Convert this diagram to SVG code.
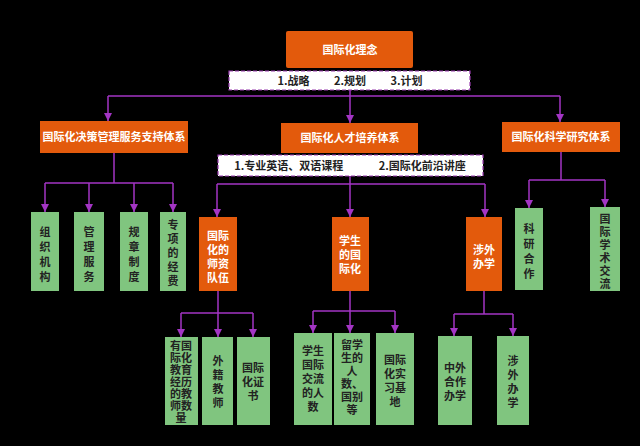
<svg xmlns="http://www.w3.org/2000/svg" width="640" height="446" viewBox="0 0 640 446">
<defs>
<marker id="a" viewBox="0 0 10 10" refX="10" refY="5" markerWidth="8" markerHeight="8" orient="auto" markerUnits="userSpaceOnUse">
<path d="M0,0 L10,5 L0,10 Z" fill="#a335c4"/>
</marker>
<style>
.o{fill:#e35a0c}
.g{fill:#80c57f}
.d{fill:#fff;stroke:#9a3cb0;stroke-width:1.2;stroke-dasharray:4 2}
.c{fill:none;stroke:#a335c4;stroke-width:1.5}
.t{font-family:"Noto Sans CJK SC","Liberation Sans",sans-serif;font-weight:bold;font-size:11px;text-anchor:middle}
.w{fill:#fff}
.k{fill:#222}
</style>
</defs>
<rect width="640" height="446" fill="#000"/>
<g id="connectors">
<path class="c" d="M350,90 V96 M108,96 H560"/>
<path class="c" marker-end="url(#a)" d="M108,96 V121"/>
<path class="c" marker-end="url(#a)" d="M350,96 V123"/>
<path class="c" marker-end="url(#a)" d="M560,96 V122"/>
<path class="c" d="M114,153 V183 M45,183 H173"/>
<path class="c" marker-end="url(#a)" d="M45,183 V212"/>
<path class="c" marker-end="url(#a)" d="M89,183 V212"/>
<path class="c" marker-end="url(#a)" d="M134,183 V212"/>
<path class="c" marker-end="url(#a)" d="M173,183 V212"/>
<path class="c" d="M350,176 V184 M217,184 H485"/>
<path class="c" marker-end="url(#a)" d="M217,184 V217"/>
<path class="c" marker-end="url(#a)" d="M350,184 V217"/>
<path class="c" marker-end="url(#a)" d="M485,184 V217"/>
<path class="c" d="M561,152 V180 M529,180 H605"/>
<path class="c" marker-end="url(#a)" d="M529,180 V208"/>
<path class="c" marker-end="url(#a)" d="M605,180 V207"/>
<path class="c" d="M218,291 V313 M181,313 H253"/>
<path class="c" marker-end="url(#a)" d="M181,313 V337"/>
<path class="c" marker-end="url(#a)" d="M218,313 V337"/>
<path class="c" marker-end="url(#a)" d="M253,313 V337"/>
<path class="c" d="M350,291 V311 M313,311 H395"/>
<path class="c" marker-end="url(#a)" d="M313,311 V333"/>
<path class="c" marker-end="url(#a)" d="M350,311 V333"/>
<path class="c" marker-end="url(#a)" d="M395,311 V333"/>
<path class="c" d="M484,291 V314 M454,314 H513"/>
<path class="c" marker-end="url(#a)" d="M454,314 V336"/>
<path class="c" marker-end="url(#a)" d="M513,314 V336"/>
</g>
<g id="top"><rect class="o" x="286" y="31" width="127" height="37" rx="2"/><text class="t w" x="350" y="54" font-size="12">国际化理念</text></g>
<g id="note1"><rect class="d" x="229" y="71" width="241" height="19"/><text class="t k" x="350" y="85">1.战略　　 2.规划　　 3.计划</text></g>
<g id="n-left"><rect class="o" x="40" y="121" width="148" height="32"/><text class="t w" x="114" y="141" font-size="10">国际化决策管理服务支持体系</text></g>
<g id="n-mid"><rect class="o" x="281" y="123" width="137" height="30"/><text class="t w" x="350" y="142" font-size="10.5">国际化人才培养体系</text></g>
<g id="n-right"><rect class="o" x="502" y="122" width="118" height="30"/><text class="t w" x="561" y="141" font-size="10.5">国际化科学研究体系</text></g>
<g id="note2"><rect class="d" x="218" y="155" width="265" height="21"/><text class="t k" x="350" y="170" font-size="10.5">1.专业英语、双语课程　　　 2.国际化前沿讲座</text></g>
<g id="g1"><rect class="g" x="31" y="212" width="28" height="79"/><text class="t k"><tspan x="45" y="236">组</tspan><tspan x="45" y="251">织</tspan><tspan x="45" y="266">机</tspan><tspan x="45" y="281">构</tspan></text></g>
<g id="g2"><rect class="g" x="74" y="212" width="30" height="79"/><text class="t k"><tspan x="89" y="236">管</tspan><tspan x="89" y="251">理</tspan><tspan x="89" y="266">服</tspan><tspan x="89" y="281">务</tspan></text></g>
<g id="g3"><rect class="g" x="120" y="212" width="28" height="79"/><text class="t k"><tspan x="134" y="236">规</tspan><tspan x="134" y="251">章</tspan><tspan x="134" y="266">制</tspan><tspan x="134" y="281">度</tspan></text></g>
<g id="g4"><rect class="g" x="160" y="212" width="26" height="79"/><text class="t k"><tspan x="173" y="229">专</tspan><tspan x="173" y="243">项</tspan><tspan x="173" y="257">的</tspan><tspan x="173" y="271">经</tspan><tspan x="173" y="285">费</tspan></text></g>
<g id="o1"><rect class="o" x="199" y="217" width="38" height="74"/><text class="t w"><tspan x="218" y="240">国际</tspan><tspan x="218" y="254">化的</tspan><tspan x="218" y="268">师资</tspan><tspan x="218" y="282">队伍</tspan></text></g>
<g id="o2"><rect class="o" x="332" y="217" width="37" height="74"/><text class="t w"><tspan x="350" y="245">学生</tspan><tspan x="350" y="259">的国</tspan><tspan x="350" y="273">际化</tspan></text></g>
<g id="o3"><rect class="o" x="466" y="217" width="36" height="74"/><text class="t w"><tspan x="484" y="254">涉外</tspan><tspan x="484" y="268">办学</tspan></text></g>
<g id="g5"><rect class="g" x="515" y="208" width="28" height="82"/><text class="t k"><tspan x="529" y="233">科</tspan><tspan x="529" y="248">研</tspan><tspan x="529" y="263">合</tspan><tspan x="529" y="278">作</tspan></text></g>
<g id="g6"><rect class="g" x="590" y="207" width="30" height="84"/><text class="t k"><tspan x="605" y="223">国</tspan><tspan x="605" y="236">际</tspan><tspan x="605" y="249">学</tspan><tspan x="605" y="262">术</tspan><tspan x="605" y="275">交</tspan><tspan x="605" y="288">流</tspan></text></g>
<g id="b1"><rect class="g" x="165" y="337" width="33" height="88"/><text class="t k" font-size="10"><tspan x="181" y="350">有国</tspan><tspan x="181" y="362">际化</tspan><tspan x="181" y="374">教育</tspan><tspan x="181" y="386">经历</tspan><tspan x="181" y="398">的教</tspan><tspan x="181" y="410">师数</tspan><tspan x="181" y="422">量</tspan></text></g>
<g id="b2"><rect class="g" x="202" y="337" width="31" height="88"/><text class="t k"><tspan x="218" y="365">外</tspan><tspan x="218" y="379">籍</tspan><tspan x="218" y="393">教</tspan><tspan x="218" y="407">师</tspan></text></g>
<g id="b3"><rect class="g" x="237" y="337" width="33" height="88"/><text class="t k"><tspan x="253" y="372">国际</tspan><tspan x="253" y="386">化证</tspan><tspan x="253" y="400">书</tspan></text></g>
<g id="b4"><rect class="g" x="294" y="333" width="38" height="92"/><text class="t k"><tspan x="313" y="355">学生</tspan><tspan x="313" y="369">国际</tspan><tspan x="313" y="383">交流</tspan><tspan x="313" y="397">的人</tspan><tspan x="313" y="411">数</tspan></text></g>
<g id="b5"><rect class="g" x="334" y="333" width="36" height="92"/><text class="t k"><tspan x="352" y="349">留学</tspan><tspan x="352" y="362">生的</tspan><tspan x="352" y="375">人</tspan><tspan x="352" y="388">数、</tspan><tspan x="352" y="401">国别</tspan><tspan x="352" y="414">等</tspan></text></g>
<g id="b6"><rect class="g" x="376" y="333" width="38" height="92"/><text class="t k"><tspan x="395" y="364">国际</tspan><tspan x="395" y="378">化实</tspan><tspan x="395" y="392">习基</tspan><tspan x="395" y="406">地</tspan></text></g>
<g id="b7"><rect class="g" x="438" y="336" width="34" height="89"/><text class="t k"><tspan x="455" y="372">中外</tspan><tspan x="455" y="386">合作</tspan><tspan x="455" y="400">办学</tspan></text></g>
<g id="b8"><rect class="g" x="497" y="336" width="32" height="89"/><text class="t k"><tspan x="513" y="365">涉</tspan><tspan x="513" y="379">外</tspan><tspan x="513" y="393">办</tspan><tspan x="513" y="407">学</tspan></text></g>
</svg>
